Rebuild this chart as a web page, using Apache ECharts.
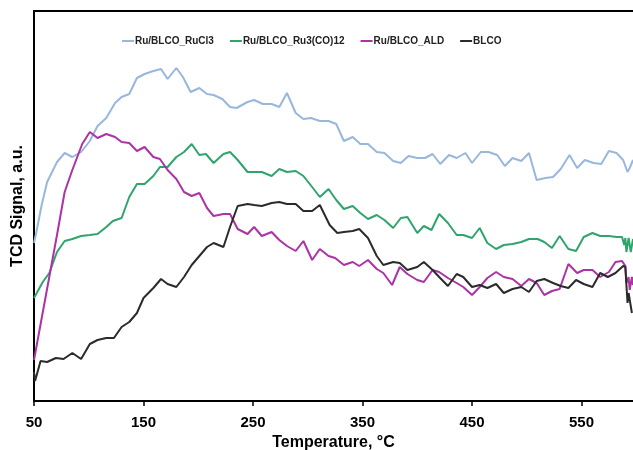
<!DOCTYPE html>
<html>
<head>
<meta charset="utf-8">
<script src="https://cdn.jsdelivr.net/npm/echarts@6/dist/echarts.min.js"></script>
<style>
  html, body { margin: 0; padding: 0; background: #fff; }
  #main { width: 633px; height: 450px; }
</style>
</head>
<body>
<div id="main"></div>
<script>
// temperatures (°C) and TCD signal (a.u.)
var rucl3T = [50,52,57,62,71,78,85,93,101,108,116,124,130,137,144,151,159,166,172,180,186,193,201,208,214,222,229,235,245,251,259,267,274,281,289,296,303,311,319,326,333,341,348,355,363,370,378,385,392,400,407,414,421,429,436,444,450,458,465,473,480,487,495,502,509,517,524,531,539,546,553,561,568,575,582,588,592,594,597];
var rucl3Y = [158,168,196,219,239,248,244,249,260,275,283,298,304,307,323,327,330,332,322,333,324,309,313,307,306,302,294,293,299,301,297,297,294,308,288,282,283,280,280,277,260,264,257,257,249,248,240,238,245,243,243,247,237,246,243,248,238,249,249,246,235,243,240,248,221,223,224,232,246,233,241,238,237,250,248,241,229,233,241];

var ru3coT = [50,58,64,71,78,85,93,101,108,116,122,130,137,144,151,159,165,172,180,187,194,201,207,214,223,229,236,245,251,258,267,274,281,289,296,304,311,319,326,333,341,348,355,363,370,378,385,391,400,406,413,420,428,436,442,450,457,464,472,479,487,495,502,510,516,523,530,538,545,552,560,567,575,582,587,589,590,591,593,595,597];
var ru3coY = [103,119,128,149,160,162,165,166,167,174,180,183,204,217,217,225,234,234,244,249,257,246,247,238,247,249,241,229,229,229,225,232,229,230,225,214,204,212,201,192,195,188,182,186,181,173,183,184,168,175,171,187,178,166,166,163,173,158,152,156,157,159,162,162,159,153,165,152,150,164,168,165,165,164,164,156,163,149,163,149,162];

var aldT = [50,71,78,85,94,101,108,116,124,130,137,144,151,159,165,172,180,187,194,201,208,214,223,229,236,245,251,258,267,274,281,289,296,304,311,319,325,333,341,347,355,363,369,377,384,391,400,406,414,420,428,436,442,450,457,464,472,479,487,495,502,509,516,523,530,538,546,552,560,567,575,581,587,590,591,593,594,596,597];
var aldY = [41,166,209,231,257,269,263,267,264,259,258,250,254,244,242,231,222,209,205,208,193,185,187,187,172,167,174,165,169,161,155,150,160,141,152,145,143,136,139,135,141,132,128,116,134,127,121,119,131,129,123,118,114,106,114,123,129,124,122,115,122,118,106,110,112,137,128,131,131,124,129,139,140,135,118,124,111,124,116];

var blcoT = [50,51,56,62,70,77,85,93,101,108,116,123,130,137,144,150,159,166,172,180,187,194,201,208,214,223,229,236,245,251,258,267,274,281,289,296,304,311,320,327,333,341,347,355,363,369,378,384,391,400,406,414,420,428,436,442,450,457,464,472,479,487,495,502,509,516,524,531,538,545,552,560,567,574,581,588,590,592,593,596];
var blcoY = [29,20,40,39,43,42,48,42,57,61,63,63,74,79,88,103,113,122,117,114,124,136,145,154,158,154,174,195,197,196,195,198,199,197,197,190,190,196,176,168,169,170,172,163,145,136,139,138,131,134,139,131,124,115,127,124,114,116,113,117,108,112,114,109,120,122,118,115,113,121,117,114,128,124,128,135,134,98,108,88];

var seriesNames = ['Ru/BLCO_RuCl3', 'Ru/BLCO_Ru3(CO)12', 'Ru/BLCO_ALD', 'BLCO'];
var seriesColors = ['#98b7dd', '#2fa56c', '#ab33a5', '#2b2b2b'];
var tickValues = [50, 150, 250, 350, 450, 550];

function zip(t, y) {
    var out = [];
    for (var i = 0; i < t.length; i++) {
        out.push([t[i], y[i]]);
    }
    return out;
}

var allData = [zip(rucl3T, rucl3Y), zip(ru3coT, ru3coY), zip(aldT, aldY), zip(blcoT, blcoY)];

var font = 'Liberation Sans, Arial, sans-serif';
var myChart = echarts.init(document.getElementById('main'), null, { renderer: 'canvas' });

var series = [];
for (var i = 0; i < seriesNames.length; i++) {
    series.push({
        name: seriesNames[i],
        type: 'line',
        data: allData[i],
        symbol: 'none',
        smooth: false,
        xAxisIndex: 0,
        lineStyle: { color: seriesColors[i], width: 2 },
        itemStyle: { color: seriesColors[i] }
    });
}

var option = {
    animation: false,
    grid: { left: 34, right: 0, top: 11, bottom: 49, containLabel: false, outerBoundsMode: 'none' },
    legend: {
        left: 117,
        top: 31,
        icon: 'rect',
        itemWidth: 12,
        itemHeight: 2,
        itemGap: 16,
        textStyle: { fontFamily: font, fontWeight: 'bold', fontSize: 10, color: '#222', padding: [0, 0, 0, -4] },
        data: seriesNames
    },
    xAxis: [{
        type: 'value',
        min: 50,
        max: 597,
        name: 'Temperature, °C',
        nameLocation: 'middle',
        nameGap: 32,
        nameTextStyle: { fontFamily: font, fontWeight: 'bold', fontSize: 16, color: '#000' },
        axisLine: { show: true, onZero: false, lineStyle: { color: '#000', width: 2 } },
        axisTick: { show: true, length: 5, customValues: tickValues, lineStyle: { color: '#000', width: 1.5 } },
        axisLabel: { customValues: tickValues, margin: 14, fontFamily: font, fontWeight: 'bold', fontSize: 15, color: '#000' },
        splitLine: { show: false }
    }, {
        type: 'value',
        position: 'top',
        min: 50,
        max: 597,
        axisLine: { show: true, onZero: false, lineStyle: { color: '#000', width: 2 } },
        axisTick: { show: false },
        axisLabel: { show: false },
        splitLine: { show: false }
    }],
    yAxis: {
        type: 'value',
        min: 0,
        max: 390,
        name: 'TCD Signal, a.u.',
        nameLocation: 'middle',
        nameGap: 8,
        nameTextStyle: { fontFamily: font, fontWeight: 'bold', fontSize: 16, color: '#000', padding: [0, 0, 0, 0] },
        axisLine: { show: true, lineStyle: { color: '#000', width: 2 } },
        axisTick: { show: false },
        axisLabel: { show: false },
        splitLine: { show: false }
    },
    series: series
};

myChart.setOption(option);
</script>
</body>
</html>
